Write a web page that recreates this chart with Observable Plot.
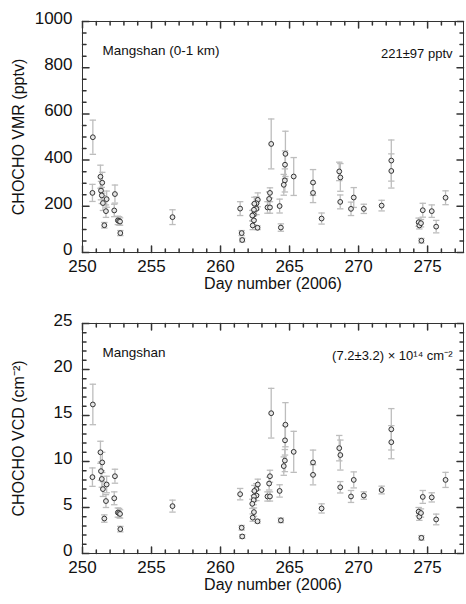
<!DOCTYPE html>
<html><head><meta charset="utf-8">
<script src="https://cdn.jsdelivr.net/npm/d3@7"></script>
<script src="https://cdn.jsdelivr.net/npm/@observablehq/plot@0.6"></script>
<style>
body{margin:0;background:#fff;font-family:Arial,"Liberation Sans",sans-serif}
#c{width:466px}
#c svg{display:block}
</style>
</head><body><div id="c"></div>
<script>
// Day number (2006)
const days = [250.75,250.72,251.3,251.43,251.34,251.4,251.48,251.75,251.7,251.58,
  252.35,252.3,252.56,252.65,252.72,252.74,256.52,261.42,261.53,261.57,
  262.7,262.6,262.45,262.6,262.42,262.4,262.3,262.42,262.33,262.68,
  263.67,263.58,263.52,263.4,263.58,264.28,264.37,264.7,264.67,264.66,264.58,
  265.3,266.7,266.7,267.32,268.6,268.68,268.67,269.45,269.65,270.38,271.67,
  272.37,272.37,274.35,274.4,274.52,274.65,274.55,275.3,275.62,276.3];
// CHOCHO VMR (pptv) and its error
const vmr = [499,258,328,302,268,247,214,231,179,118,
  253,182,139,137,134,84,153,190,84,54,
  228,213,211,189,185,164,160,139,117,107,
  470,258,232,195,195,201,108,427,380,312,293,
  329,303,258,147,351,325,219,189,238,189,203,
  398,353,131,117,127,183,51,179,112,237];
const vmrErr = [74,37,50,45,40,35,32,35,27,12,
  39,27,18,18,16,11,32,30,11,8,
  30,28,28,25,25,22,22,20,18,8,
  108,22,30,25,25,30,16,98,60,50,45,
  82,56,42,24,40,60,30,29,43,20,23,
  89,74,18,15,16,30,10,27,27,30];
// CHOCHO VCD (10^14 cm^-2) and its error
const vcd = [16.2,8.3,11.0,9.9,8.95,8.1,7.0,7.5,5.7,3.8,
  8.4,6.0,4.45,4.4,4.3,2.65,5.15,6.45,2.8,1.85,
  7.5,7.0,6.8,6.3,6.2,5.8,5.4,4.5,3.9,3.5,
  15.25,8.4,7.6,6.2,6.2,6.8,3.6,14.0,12.3,10.1,9.5,
  11.05,9.9,8.55,4.9,11.45,10.7,7.2,6.2,8.0,6.3,6.9,
  13.5,12.1,4.55,4.0,4.4,6.15,1.7,6.1,3.7,8.0];
const vcdErr = [2.2,1.0,1.2,1.1,1.0,0.9,0.8,0.9,0.7,0.4,
  0.76,0.7,0.5,0.5,0.45,0.3,0.65,0.62,0.25,0.2,
  0.58,0.6,0.6,0.55,0.55,0.5,0.5,0.45,0.4,0.2,
  2.7,0.65,0.7,0.5,0.5,0.67,0.25,2.4,1.6,1.2,1.0,
  2.23,1.34,1.09,0.5,1.38,1.63,0.62,0.65,0.87,0.4,0.42,
  2.25,1.8,0.45,0.4,0.45,0.7,0.25,0.5,0.58,0.82];

const xDomain = [250, 277.6];
const xMajor = [250,255,260,265,270,275];
const xMinor = d3.range(251,278,1).filter(d => d % 5 !== 0);

const lineShape = {draw(ctx, l) { ctx.moveTo(0, 0); ctx.lineTo(0, -l); }};
const capSymbol = {draw(ctx, size) { const w = Math.sqrt(size / Math.PI); ctx.moveTo(-w, 0); ctx.lineTo(w, 0); }};
const frameColor = "#333";

function ticksMarks(xs, ys, len) {
  const m = [];
  m.push(Plot.vector(xs, {x: d => d, frameAnchor: "bottom", rotate: 0, length: len, anchor: "start", shape: lineShape, stroke: frameColor}));
  m.push(Plot.vector(xs, {x: d => d, frameAnchor: "top", rotate: 180, length: len, anchor: "start", shape: lineShape, stroke: frameColor}));
  m.push(Plot.vector(ys, {y: d => d, frameAnchor: "left", rotate: 90, length: len, anchor: "start", shape: lineShape, stroke: frameColor}));
  m.push(Plot.vector(ys, {y: d => d, frameAnchor: "right", rotate: -90, length: len, anchor: "start", shape: lineShape, stroke: frameColor}));
  return m;
}

function panel({values, errs, yDomain, yMajor, yMinor, ylabel, leftText, rightText, marginBottom}) {
  const data = days.map((d, i) => ({day: d, v: values[i], lo: values[i] - errs[i], hi: values[i] + errs[i]}));
  return Plot.plot({
    width: 466, height: 302,
    marginTop: 21, marginBottom, marginLeft: 82, marginRight: 3,
    x: {domain: xDomain},
    y: {domain: yDomain},
    style: {fontFamily: "Arial, 'Liberation Sans', sans-serif", fontSize: "17px", color: "#111", background: "#fff"},
    marks: [
      Plot.ruleX(data, {x: "day", y1: "lo", y2: "hi", stroke: "#bdbdbd", strokeWidth: 1.3}),
      Plot.dot(data, {x: "day", y: "lo", symbol: capSymbol, r: 3.2, stroke: "#bdbdbd", strokeWidth: 1.3}),
      Plot.dot(data, {x: "day", y: "hi", symbol: capSymbol, r: 3.2, stroke: "#bdbdbd", strokeWidth: 1.3}),
      Plot.dot(data, {x: "day", y: "v", r: 2.4, stroke: "#333", strokeWidth: 1, fill: "#e6e6e6"}),
      Plot.frame({stroke: frameColor}),
      ...ticksMarks(xMajor, yMajor, 6.5),
      ...ticksMarks(xMinor, yMinor, 3.5),
      Plot.axisX({ticks: xMajor, tickSize: 0, tickPadding: 7, label: null, tickFormat: d => String(d), fontSize: 17}),
      Plot.axisY({ticks: yMajor, tickSize: 0, tickPadding: 10, dy: -3, label: null, tickFormat: d => String(d), fontSize: 17}),
      Plot.text(["Day number (2006)"], {frameAnchor: "bottom", dy: 36, fontSize: 16, fill: "#111"}),
      Plot.text([ylabel], {frameAnchor: "left", dx: -64, rotate: -90, textAnchor: "middle", fontSize: 16, fill: "#111"}),
      Plot.text([leftText], {frameAnchor: "top-left", dx: 20, dy: 24, textAnchor: "start", fontSize: 13.5, fill: "#111"}),
      Plot.text([rightText], {frameAnchor: "top-right", dx: -11, dy: 27, textAnchor: "end", fontSize: 13, fill: "#111"})
    ]
  });
}

const c = document.getElementById("c");
c.append(panel({
  values: vmr, errs: vmrErr, yDomain: [0, 1000],
  yMajor: d3.range(0, 1001, 200), yMinor: d3.range(50, 1000, 50).filter(d => d % 200 !== 0),
  ylabel: "CHOCHO VMR (pptv)", leftText: "Mangshan (0-1 km)", rightText: "221±97 pptv", marginBottom: 50
}));
c.append(panel({
  values: vcd, errs: vcdErr, yDomain: [0, 25],
  yMajor: d3.range(0, 26, 5), yMinor: d3.range(1, 25, 1).filter(d => d % 5 !== 0),
  ylabel: "CHOCHO VCD (cm⁻²)", leftText: "Mangshan", rightText: "(7.2±3.2) × 10¹⁴ cm⁻²", marginBottom: 51
}));
</script>
</body></html>
